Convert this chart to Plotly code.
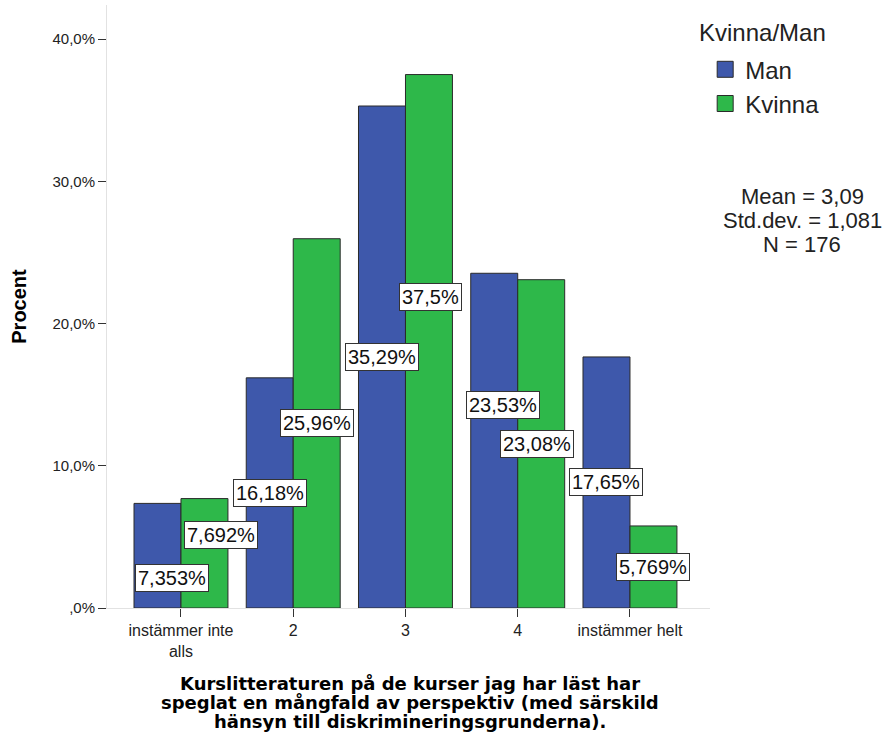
import plotly.graph_objects as go

categories = ["instämmer inte<br>alls", "2", "3", "4", "instämmer helt"]
series_names = ["Man", "Kvinna"]
man_values = [7.353, 16.18, 35.29, 23.53, 17.65]
kvinna_values = [7.692, 25.96, 37.5, 23.08, 5.769]
y_tick_values = [0, 10, 20, 30, 40]
y_tick_labels = [",0%", "10,0%", "20,0%", "30,0%", "40,0%"]
stat_lines = ["Mean = 3,09", "Std.dev. = 1,081", "N = 176"]
x_title_lines = [
    "Kurslitteraturen på de kurser jag har läst har",
    "speglat en mångfald av perspektiv (med särskild",
    "hänsyn till diskrimineringsgrunderna).",
]

# label placement (fraction of bar height) and pixel nudges
man_label_frac = [0.287, 0.5, 0.5, 0.607, 0.5]
kvinna_label_frac = [0.667, 0.5, 0.583, 0.5, 0.5]
man_label_dx = [15, 0, 0, 9, 0]
kvinna_label_dx = [17, 0, 2, -4, 0]

BLUE = "#3E58AB"
GREEN = "#2EB84A"
FONT = "Liberation Sans, Arial, sans-serif"

x_idx = list(range(len(categories)))
fig = go.Figure()
for name, vals, col in zip(series_names, [man_values, kvinna_values], [BLUE, GREEN]):
    fig.add_trace(go.Bar(
        x=x_idx, y=vals, name=name, marker=dict(color=col, line=dict(color="#2a2a2a", width=1)),
        showlegend=False, hoverinfo="skip",
    ))
    # legend proxy with larger swatch
    fig.add_trace(go.Scatter(
        x=[None], y=[None], mode="markers", name=name,
        marker=dict(symbol="square", size=22, color=col, line=dict(color="#2a2a2a", width=1)),
    ))

def fmt(v):
    return f"{v:.4g}".replace(".", ",") + "%"

bar_off = 0.2093
annotations = []
for vals, fracs, dxs, sgn in [(man_values, man_label_frac, man_label_dx, -1),
                              (kvinna_values, kvinna_label_frac, kvinna_label_dx, 1)]:
    for i, v in enumerate(vals):
        annotations.append(dict(
            x=i + sgn * bar_off, y=v * fracs[i], xref="x", yref="y", text=fmt(v),
            showarrow=False, xshift=dxs[i], font=dict(family=FONT, size=20, color="#111"),
            bgcolor="white", bordercolor="#333", borderwidth=1, borderpad=2,
        ))

# stats
stat_y = [0.6816, 0.6418, 0.602]
for t, yy in zip(stat_lines, stat_y):
    annotations.append(dict(x=1.1526, y=yy, xref="paper", yref="paper", text=t, showarrow=False,
                            xanchor="center", yanchor="middle",
                            font=dict(family=FONT, size=22, color="#222")))
# legend title
annotations.append(dict(x=0.9784, y=0.9536, xref="paper", yref="paper", text="Kvinna/Man",
                        showarrow=False, xanchor="left", yanchor="middle",
                        font=dict(family=FONT, size=24, color="#222")))
# x axis title lines
xt_y = [-0.1244, -0.1559, -0.1874]
for t, yy in zip(x_title_lines, xt_y):
    annotations.append(dict(x=0.5025, y=yy, xref="paper", yref="paper", text="<b>" + t + "</b>",
                            showarrow=False, xanchor="center", yanchor="middle",
                            font=dict(family="DejaVu Sans, sans-serif", size=18, color="#000")))

fig.update_layout(
    width=887, height=736,
    margin=dict(l=107, r=177, t=5, b=128),
    paper_bgcolor="white", plot_bgcolor="white",
    barmode="group", bargap=0.163, bargroupgap=0,
    font=dict(family=FONT, color="#222"),
    annotations=annotations,
    showlegend=True,
    legend=dict(x=0.992, y=0.930, xanchor="left", yanchor="top",
                font=dict(family=FONT, size=24, color="#222"),
                bgcolor="rgba(0,0,0,0)", itemsizing="trace", tracegroupgap=0),
    xaxis=dict(
        range=[-0.659, 4.713], tickmode="array", tickvals=x_idx, ticktext=categories,
        showline=True, linecolor="#e2e2e2", linewidth=1, showgrid=False, zeroline=False,
        ticks="outside", ticklen=8, tickcolor="#333", tickwidth=1,
        tickfont=dict(family=FONT, size=16, color="#222"),
    ),
    yaxis=dict(
        range=[0, 42.39], tickmode="array", tickvals=y_tick_values, ticktext=y_tick_labels,
        showline=True, linecolor="#e2e2e2", linewidth=1, showgrid=False, zeroline=False,
        ticks="outside", ticklen=8, tickcolor="#333", tickwidth=1,
        tickfont=dict(family=FONT, size=15, color="#222"),
        title=dict(text="<b>Procent</b>", font=dict(family=FONT, size=20, color="#000"), standoff=20),
    ),
)

fig.write_html("out.html", post_script="document.body.style.margin='0px';",
               config={"displayModeBar": False})
